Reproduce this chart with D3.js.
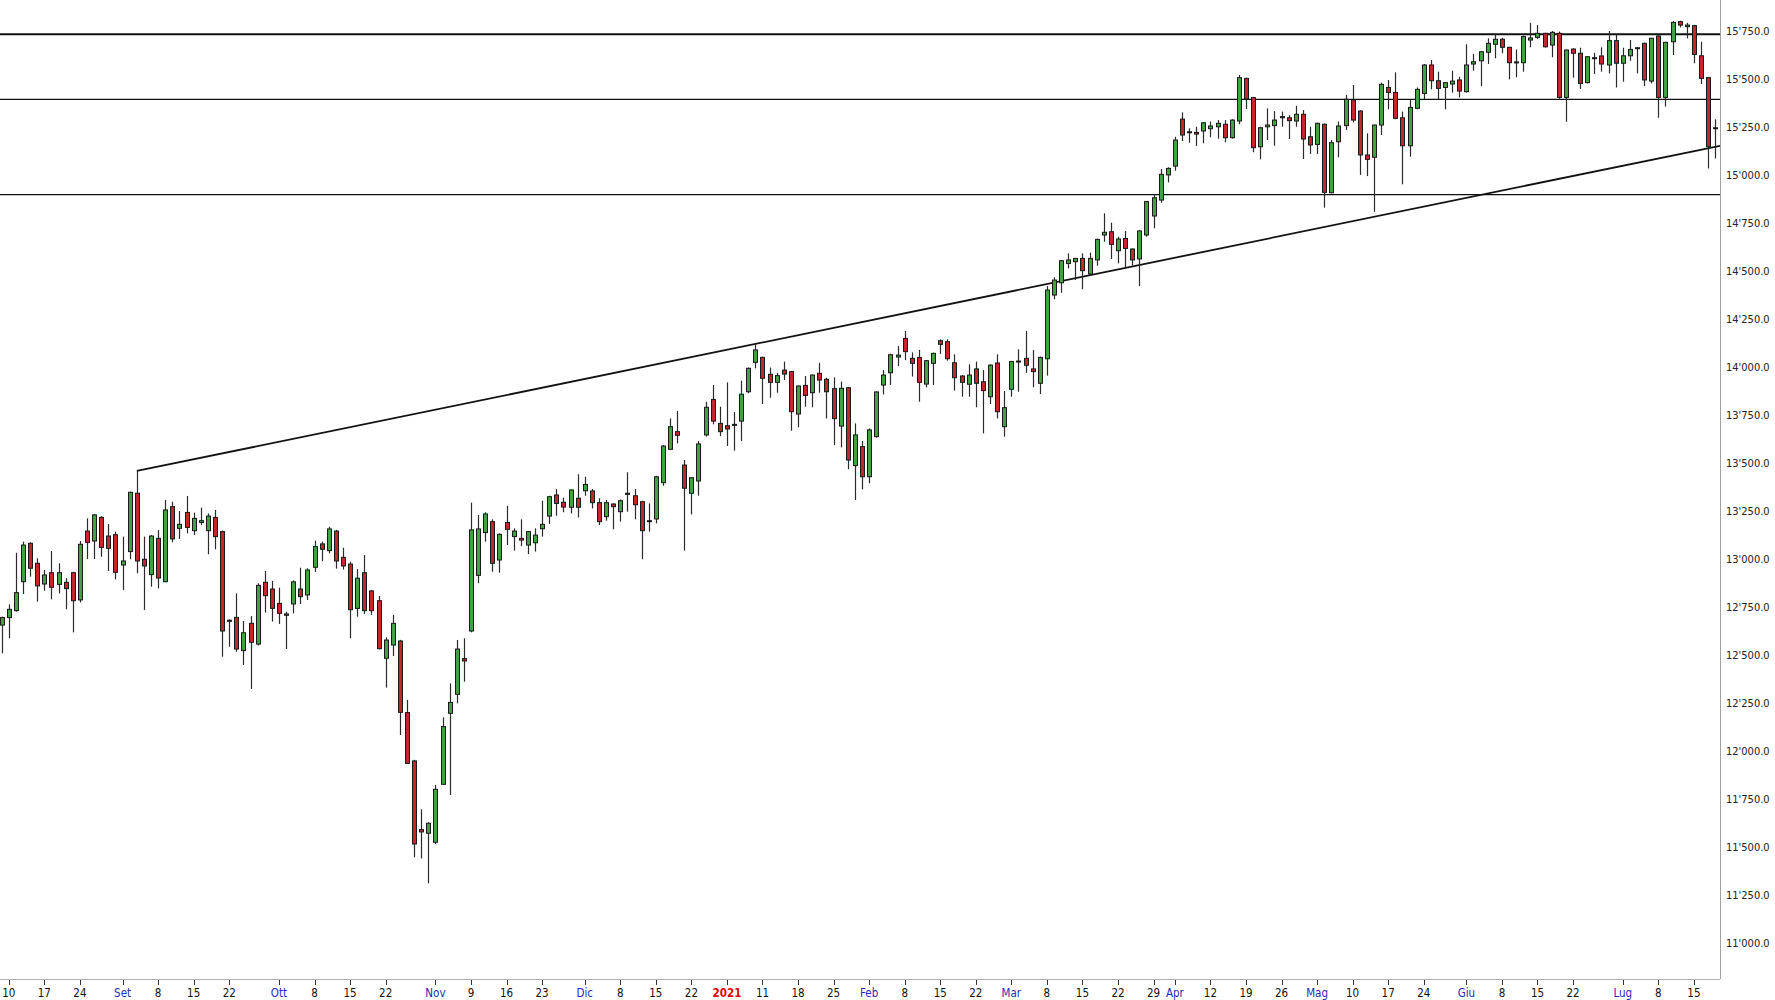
<!DOCTYPE html>
<html><head><meta charset="utf-8">
<script src="https://cdn.jsdelivr.net/npm/d3@7"></script>
<style>body{margin:0;background:#fff}svg{display:block}</style>
</head><body>
<svg id="c" width="1775" height="1000"></svg>
<script>
// ---- DATA (DAX daily candles, 7 Aug 2020 – 20 Jul 2021) ----
const firstDay = "2020-08-07", lastDay = "2021-07-20";
const holidays = ["2020-12-24","2020-12-25","2020-12-31","2021-01-01","2021-04-02","2021-04-05"];
const open = [12657,12696,12732,12883,13083,12979,12871,12930,12869,12880,12930,12788,13147,13095,13218,13121,13128,12970,13040,13344,13000,12920,13109,12883,13274,13161,13244,13149,13192,13149,13218,13144,12682,12697,12524,12666,12558,12880,12845,12770,12715,12767,12845,12814,12958,13080,13045,13147,13010,12975,12744,12930,12835,12784,12484,12553,12574,12201,11949,11591,11572,11525,11827,12197,12296,12482,12626,12916,13139,13196,12996,13192,13118,13109,13074,13086,13159,13225,13335,13297,13271,13318,13357,13356,13295,13222,13288,13248,13338,13331,13300,13201,13210,13399,13573,13665,13491,13344,13408,13648,13833,13708,13696,13703,13720,13873,14026,14052,13964,13922,13986,13978,13757,13906,13868,13969,13938,13889,13694,13894,13488,13587,13430,13639,13908,13972,14054,14151,14047,14052,13913,14021,14139,14134,14024,13955,13912,13992,13925,13847,14023,13691,13886,14028,14047,13992,13917,14045,14377,14441,14542,14551,14568,14487,14560,14690,14707,14608,14672,14617,14565,14690,14789,14872,15003,15049,15294,15228,15225,15232,15244,15254,15267,15197,15284,15506,15406,15150,15254,15260,15301,15301,15284,15319,15202,15162,15267,14910,15176,15260,15393,15336,15107,15095,15263,15459,15433,15301,15155,15350,15428,15576,15494,15459,15477,15498,15437,15581,15598,15642,15684,15710,15668,15592,15588,15706,15720,15741,15680,15741,15407,15659,15637,15484,15614,15623,15576,15703,15585,15624,15666,15689,15492,15727,15407,15697,15802,15776,15781,15624,15510,15244];
const high = [12701,12765,13034,13092,13088,13005,12944,13043,12979,12901,12935,13095,13213,13236,13225,13184,13144,13118,13352,13460,13118,13126,13152,13309,13300,13251,13330,13243,13269,13239,13257,13150,12687,12822,12678,12704,12875,12939,12887,12852,12727,12890,12956,12953,13097,13092,13170,13153,13060,12987,12949,13022,12840,12809,12593,12710,12580,12267,11955,11697,11629,11824,12176,12353,12579,12588,13295,13231,13245,13208,13135,13278,13161,13208,13147,13161,13305,13331,13366,13321,13365,13443,13430,13366,13318,13309,13291,13312,13453,13366,13305,13291,13435,13595,13734,13773,13517,13428,13616,13821,13908,13795,13922,13767,13931,14000,14122,14056,13999,13972,14030,13982,13906,13955,13963,14024,13946,13948,13926,13898,13708,13616,13682,13875,13986,14071,14111,14190,14078,14091,14038,14077,14146,14146,14068,13960,14016,14030,13986,14016,14068,13877,14034,14094,14190,14091,14056,14424,14469,14560,14594,14570,14594,14598,14671,14803,14754,14681,14711,14620,14715,14867,14902,15034,15043,15202,15329,15246,15254,15279,15281,15289,15289,15293,15524,15510,15410,15254,15350,15336,15333,15315,15364,15341,15254,15275,15271,15185,15281,15420,15472,15340,15220,15266,15484,15498,15538,15333,15393,15459,15581,15602,15541,15487,15546,15515,15684,15633,15649,15715,15736,15718,15671,15657,15729,15796,15784,15744,15753,15750,15657,15663,15666,15622,15640,15668,15753,15736,15666,15706,15668,15692,15718,15730,15697,15805,15807,15796,15785,15697,15514,15293];
const low = [12510,12588,12727,12819,12909,12779,12836,12791,12822,12739,12619,12775,13001,13001,13013,12939,12895,12840,13000,12927,12736,12857,12848,12880,13088,13106,13135,13126,13178,13026,13052,12492,12544,12518,12449,12324,12550,12722,12675,12663,12532,12718,12767,12788,12934,12990,13031,12951,12946,12588,12701,12715,12710,12530,12331,12496,12084,11933,11447,11441,11311,11516,11824,11771,12249,12362,12619,12875,13092,12935,12930,13074,13045,13069,13027,13040,13118,13184,13227,13245,13239,13218,13331,13265,13178,13201,13156,13196,13248,13208,13000,13144,13187,13383,13569,13604,13045,13234,13331,13639,13703,13642,13590,13566,13616,13865,13995,13809,13842,13868,13934,13670,13688,13795,13792,13868,13734,13595,13583,13469,13309,13364,13396,13634,13859,13908,14007,14038,13952,13821,13896,13908,14070,14035,13879,13847,13847,13792,13656,13809,13734,13639,13847,13873,13972,13896,13861,13957,14355,14389,14516,14455,14407,14476,14530,14655,14565,14542,14521,14530,14424,14681,14725,14858,14964,15025,15180,15171,15154,15168,15199,15192,15173,15192,15267,15347,15121,15084,15185,15155,15254,15190,15254,15086,15112,15112,14832,14907,15095,15237,15277,15003,14997,14811,15211,15345,15293,14954,15098,15345,15399,15449,15397,15345,15432,15407,15432,15546,15466,15581,15611,15637,15501,15512,15541,15668,15711,15666,15616,15400,15280,15510,15451,15480,15529,15541,15532,15459,15489,15598,15532,15466,15480,15301,15359,15628,15772,15715,15585,15477,15037,15089];
const close = [12696,12739,12826,13074,12953,12861,12918,12854,12930,12847,12784,13078,13088,13231,13062,13057,12932,12991,13349,12991,12965,13121,12902,13257,13106,13182,13166,13213,13201,13225,13118,12626,12678,12532,12617,12567,12864,12810,12744,12718,12708,12882,12805,12944,13066,13052,13158,12991,12965,12737,12901,12732,12732,12534,12579,12666,12202,11936,11516,11579,11624,11801,12128,12254,12532,12470,13153,13158,13236,12979,13130,13156,13147,13100,13144,13126,13182,13326,13291,13272,13361,13271,13390,13295,13196,13295,13274,13305,13344,13284,13149,13196,13430,13590,13691,13646,13370,13425,13601,13792,13720,13665,13679,13700,13860,13995,14091,13943,13922,13957,13965,13769,13903,13854,13960,13934,13873,13733,13891,13517,13648,13430,13674,13872,13960,14066,14064,14082,14021,13922,14035,14073,14120,14045,13946,13922,13960,13917,13879,14012,13769,13790,14030,14033,14011,13978,14052,14403,14455,14556,14560,14568,14504,14568,14667,14704,14641,14669,14620,14560,14711,14864,14884,15006,15037,15185,15211,15223,15216,15275,15258,15272,15197,15289,15510,15399,15145,15249,15263,15289,15307,15286,15319,15190,15159,15272,14912,15171,15258,15397,15289,15107,15084,15263,15475,15433,15298,15155,15355,15449,15576,15494,15454,15484,15492,15440,15576,15593,15645,15689,15710,15668,15588,15588,15724,15717,15741,15671,15746,15407,15654,15637,15480,15619,15612,15581,15703,15585,15624,15657,15664,15498,15715,15407,15694,15798,15784,15784,15631,15506,15150,15249];

const yTicks = [11000,11250,11500,11750,12000,12250,12500,12750,13000,13250,13500,13750,14000,14250,14500,14750,15000,15250,15500,15750];
const xTickDates = ["2020-08-10","2020-08-17","2020-08-24","2020-09-01","2020-09-08","2020-09-15","2020-09-22","2020-10-01","2020-10-08","2020-10-15","2020-10-22","2020-11-02","2020-11-09","2020-11-16","2020-11-23","2020-12-01","2020-12-08","2020-12-15","2020-12-22","2021-01-04","2021-01-11","2021-01-18","2021-01-25","2021-02-01","2021-02-08","2021-02-15","2021-02-22","2021-03-01","2021-03-08","2021-03-15","2021-03-22","2021-03-29","2021-04-01","2021-04-12","2021-04-19","2021-04-26","2021-05-03","2021-05-10","2021-05-17","2021-05-24","2021-06-01","2021-06-08","2021-06-15","2021-06-22","2021-07-01","2021-07-08","2021-07-15"];
const xTickLabels = ["10","17","24","Set","8","15","22","Ott","8","15","22","Nov","9","16","23","Dic","8","15","22","2021","11","18","25","Feb","8","15","22","Mar","8","15","22","29","Apr","12","19","26","Mag","10","17","24","Giu","8","15","22","Lug","8","15"];
const xTickKind = ["d","d","d","m","d","d","d","m","d","d","d","m","d","d","d","m","d","d","d","y","d","d","d","m","d","d","d","m","d","d","d","d","m","d","d","d","m","d","d","d","m","d","d","d","m","d","d"];

// support / resistance levels and trend line anchors (value space)
const levels = [15736, 15397, 14900];
const levelWidths = [2, 1.2, 1.2];
const trendStart = {date:"2020-09-03", value:13460};
const trendEndValue = 15155; // at right edge of the plot

// ---- trading-day categories ----
const fmt = d3.utcFormat("%Y-%m-%d");
const days = [];
for (let d = new Date(firstDay+"T00:00:00Z"); fmt(d) <= lastDay; d = new Date(d.getTime()+86400000)) {
  const wd = d.getUTCDay();
  if (wd === 0 || wd === 6) continue;
  if (holidays.includes(fmt(d))) continue;
  days.push(fmt(d));
}
const idx = new Map(days.map((d,i)=>[d,i]));
const candles = days.map((d,i)=>({i, o:open[i], h:high[i], l:low[i], c:close[i]})).filter(c=>c.o!==undefined);

// ---- layout ----
const W = 1775, H = 1000;
const plotR = 1720, plotB = 979;
const svg = d3.select("#c");

const x = d3.scaleLinear().domain([-0.24, 241.67]).range([0, plotR]);
const y = d3.scaleLinear().domain([11000, 15750]).range([943, 31.6]);

// axes frame
svg.append("line").attr("x1",plotR+0.5).attr("x2",plotR+0.5).attr("y1",0).attr("y2",plotB)
  .attr("stroke","#a0a0a0").attr("stroke-width",1);
svg.append("line").attr("x1",0).attr("x2",plotR).attr("y1",plotB+0.5).attr("y2",plotB+0.5)
  .attr("stroke","#b0b0b0").attr("stroke-width",1);

// y labels
const fmtNum = v => d3.format(",.1f")(v).replace(/,/g,"'");
svg.append("g").selectAll("text").data(yTicks).join("text")
  .attr("x", plotR+6).attr("y", d=>y(d)).attr("dy","0.35em")
  .attr("font-family","'DejaVu Sans Condensed','DejaVu Sans',sans-serif").attr("font-size",11)
  .attr("fill","#222").text(fmtNum);

// x ticks & labels
const xt = xTickDates.map((d,k)=>({i:idx.get(d), label:xTickLabels[k], kind:xTickKind[k]}));
const gx = svg.append("g");
gx.selectAll("line").data(xt).join("line")
  .attr("x1",d=>Math.round(x(d.i))+0.5).attr("x2",d=>Math.round(x(d.i))+0.5)
  .attr("y1",plotB+1).attr("y2",plotB+6).attr("stroke","#333").attr("stroke-width",1);
gx.selectAll("text").data(xt).join("text")
  .attr("x",d=>x(d.i)).attr("y",997).attr("text-anchor","middle")
  .attr("font-family","'DejaVu Sans Condensed','DejaVu Sans',sans-serif")
  .attr("font-size",11.5)
  .attr("font-weight",d=>d.kind==="y"?"bold":"normal")
  .attr("fill",d=>d.kind==="m"?"#2a2ab0":(d.kind==="y"?"#e00000":"#111"))
  .text(d=>d.label);

// horizontal levels
svg.append("g").selectAll("line").data(levels).join("line")
  .attr("x1",0).attr("x2",plotR).attr("y1",d=>y(d)).attr("y2",d=>y(d))
  .attr("stroke","#111").attr("stroke-width",(d,k)=>levelWidths[k]);

// trend line
svg.append("line")
  .attr("x1",x(idx.get(trendStart.date))).attr("y1",y(trendStart.value))
  .attr("x2",plotR).attr("y2",y(trendEndValue))
  .attr("stroke","#111").attr("stroke-width",1.8);

// candles
const bw = 4;
const g = svg.append("g");
g.selectAll("line.w").data(candles).join("line").attr("class","w")
  .attr("x1",d=>Math.round(x(d.i))+0.5).attr("x2",d=>Math.round(x(d.i))+0.5)
  .attr("y1",d=>y(d.h)).attr("y2",d=>y(d.l))
  .attr("stroke","#2a2a2a").attr("stroke-width",1.2);
g.selectAll("rect").data(candles).join("rect")
  .attr("x",d=>Math.round(x(d.i))-bw/2+0.5)
  .attr("y",d=>y(Math.max(d.o,d.c)))
  .attr("width",bw)
  .attr("height",d=>Math.max(1, y(Math.min(d.o,d.c))-y(Math.max(d.o,d.c))))
  .attr("fill",d=>d.c>=d.o?"#42a142":"#c4262e")
  .attr("stroke","#1a1a1a").attr("stroke-width",1);
</script>
</body></html>
